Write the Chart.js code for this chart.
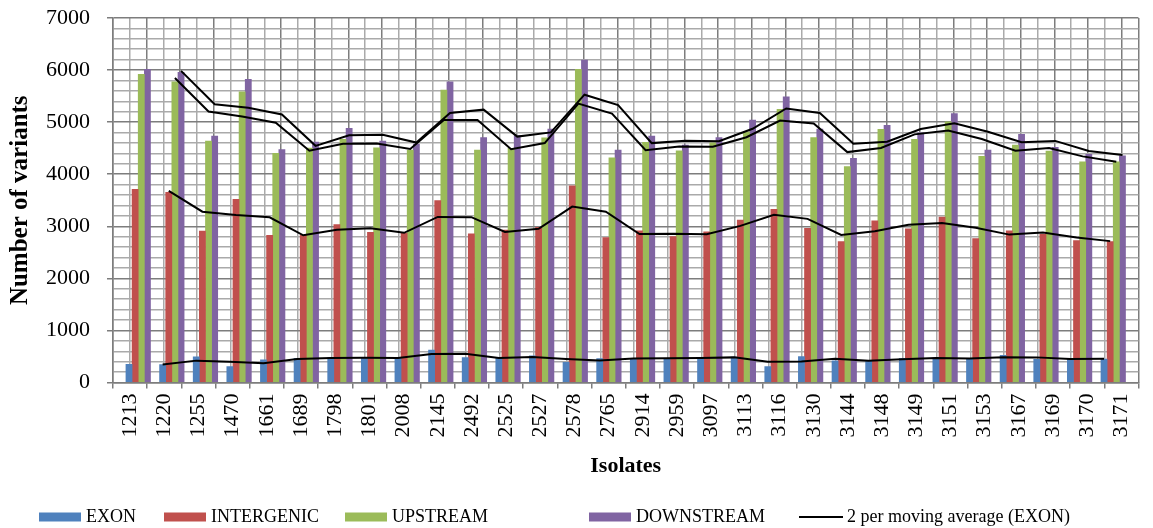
<!DOCTYPE html>
<html>
<head>
<meta charset="utf-8">
<script src="https://cdn.jsdelivr.net/npm/chart.js@4/dist/chart.umd.min.js"></script>
<style>
  html, body { margin: 0; padding: 0; background: #ffffff; }
  #wrap { width: 1153px; height: 528px; }
</style>
</head>
<body>
<div id="wrap"><canvas id="chart" width="1153" height="528"></canvas></div>
<script>
// Isolates on the x axis
const isolates = ['1213','1220','1255','1470','1661','1689','1798','1801','2008','2145',
                  '2492','2525','2527','2578','2765','2914','2959','3097','3113','3116',
                  '3130','3144','3148','3149','3151','3153','3167','3169','3170','3171'];

// Number of variants per isolate and region
const exon       = [350, 345, 495, 305, 435, 465, 475, 475, 465, 625,
                    478, 465, 510, 388, 458, 465, 465, 475, 490, 305,
                    498, 415, 425, 465, 472, 448, 520, 445, 458, 450];
const intergenic = [3710, 3650, 2910, 3520, 2825, 2830, 3035, 2885, 2865, 3495,
                    2855, 2925, 2980, 3775, 2785, 2915, 2800, 2895, 3120, 3325,
                    2960, 2705, 3105, 2950, 3175, 2765, 2915, 2845, 2725, 2705];
const upstream   = [5920, 5775, 4635, 5580, 4400, 4500, 4670, 4505, 4465, 5615,
                    4465, 4495, 4700, 6015, 4315, 4610, 4450, 4605, 4815, 5245,
                    4705, 4145, 4860, 4670, 5005, 4345, 4560, 4445, 4240, 4240];
const downstream = [6015, 5955, 4730, 5820, 4475, 4615, 4880, 4635, 4580, 5775,
                    4705, 4740, 4865, 6190, 4465, 4730, 4560, 4705, 5040, 5485,
                    4865, 4305, 4940, 4795, 5165, 4465, 4765, 4515, 4380, 4355];

// Value axis ticks
const yTicks = [0, 1000, 2000, 3000, 4000, 5000, 6000, 7000];

const seriesNames  = ['EXON', 'INTERGENIC', 'UPSTREAM', 'DOWNSTREAM'];
const seriesValues = [exon, intergenic, upstream, downstream];
const seriesColors = ['#4f81bd', '#c0504d', '#9bbb59', '#8064a2'];
const trendLabel   = '2 per moving average (EXON)';

const FONT = "'Liberation Serif', 'Times New Roman', serif";
const GROUP_WIDTH = 0.73;           // share of each isolate's slot taken by its four bars
const GRID_MAJOR = '#7d7d7d';
const GRID_MINOR = '#aaaaaa';

// Position of series k inside the group of isolate i, in category units
function slotX(i, k) {
  const n = seriesValues.length;
  return i + (k - (n - 1) / 2) * (GROUP_WIDTH / n);
}

// Bar points: one per isolate, sitting in the series' own place in the group
function barPoints(values, k) {
  return values.map((v, i) => ({ x: slotX(i, k), y: v }));
}

// Two-period moving average, drawn through the series' own bars
function movingAverage(values, k) {
  const pts = [];
  for (let i = 1; i < values.length; i++) {
    pts.push({ x: slotX(i, k), y: (values[i - 1] + values[i]) / 2 });
  }
  return pts;
}

const barDatasets = seriesValues.map((vals, k) => ({
  type: 'bar',
  label: seriesNames[k],
  data: barPoints(vals, k),
  backgroundColor: seriesColors[k],
  borderWidth: 0,
  grouped: false,
  categoryPercentage: 1,
  barPercentage: 1,
  xAxisID: 'xl',
  yAxisID: 'y',
  order: 1,
  showInLegend: true
}));

const trendDatasets = seriesValues.map((vals, k) => ({
  type: 'line',
  label: k === 0 ? trendLabel : '2 per moving average (' + seriesNames[k] + ')',
  data: movingAverage(vals, k),
  borderColor: '#000000',
  backgroundColor: '#000000',
  borderWidth: 2,
  pointRadius: 0,
  tension: 0,
  fill: false,
  xAxisID: 'xl',
  yAxisID: 'y',
  order: 0,
  showInLegend: k === 0
}));

// Legend keys laid out along the bottom row
const legendSlots = [39, 164, 345, 589, 799];
const legendRowY = 517;

const bottomLegend = {
  id: 'bottomLegend',
  afterDraw(chart) {
    const ctx = chart.ctx;
    const items = chart.data.datasets.filter(d => d.showInLegend);
    ctx.save();
    ctx.font = '18px ' + FONT;
    ctx.textBaseline = 'middle';
    ctx.textAlign = 'left';
    items.forEach((d, i) => {
      const x0 = legendSlots[i];
      if (d.type === 'line') {
        ctx.strokeStyle = d.borderColor;
        ctx.lineWidth = 2;
        ctx.beginPath();
        ctx.moveTo(x0, legendRowY);
        ctx.lineTo(x0 + 44, legendRowY);
        ctx.stroke();
        ctx.fillStyle = '#000';
        ctx.fillText(d.label, x0 + 48, legendRowY);
      } else {
        ctx.fillStyle = d.backgroundColor;
        ctx.fillRect(x0, legendRowY - 4.5, 42, 9);
        ctx.fillStyle = '#000';
        ctx.fillText(d.label, x0 + 47, legendRowY);
      }
    });
    ctx.restore();
  }
};

const isMajorY = c => !!(c && c.tick && yTicks.includes(c.tick.value));
const isCentre = c => !!(c && c.tick && Number.isInteger(c.tick.value));

new Chart(document.getElementById('chart'), {
  type: 'bar',
  data: {
    labels: isolates,
    datasets: [...barDatasets, ...trendDatasets]
  },
  options: {
    responsive: false,
    animation: false,
    layout: { padding: { top: 18, right: 10, bottom: 48, left: 0 } },
    plugins: {
      legend: { display: false },
      tooltip: { enabled: false }
    },
    scales: {
      x: {
        type: 'category',
        position: 'bottom',
        offset: true,
        grid: {
          display: true,
          offset: true,
          drawOnChartArea: false,
          drawTicks: true,
          tickLength: 6,
          color: GRID_MAJOR,
          lineWidth: 1.5
        },
        border: { display: true, color: GRID_MAJOR, width: 1.5 },
        ticks: {
          autoSkip: false,
          maxRotation: 90,
          minRotation: 90,
          padding: 5,
          color: '#000000',
          font: { family: FONT, size: 22 }
        },
        title: {
          display: true,
          text: 'Isolates',
          color: '#000000',
          font: { family: FONT, size: 22, weight: 'bold' },
          padding: { top: 0, bottom: 0 }
        },
        afterFit(scale) { scale.height = 97.5; }
      },
      xl: {
        type: 'linear',
        position: 'top',
        min: -0.5,
        max: isolates.length - 0.5,
        ticks: { display: false, stepSize: 0.5 },
        grid: {
          drawTicks: false,
          color: c => isCentre(c) ? GRID_MINOR : GRID_MAJOR,
          lineWidth: 1.5
        },
        border: { display: false, color: GRID_MAJOR },
        afterFit(scale) { scale.height = 0; }
      },
      y: {
        type: 'linear',
        position: 'left',
        min: yTicks[0],
        max: yTicks[yTicks.length - 1],
        ticks: {
          stepSize: 200,
          autoSkip: false,
          padding: 17,
          color: '#000000',
          font: { family: FONT, size: 22 },
          callback: v => yTicks.includes(v) ? String(v) : ''
        },
        grid: {
          color: c => isMajorY(c) ? GRID_MAJOR : GRID_MINOR,
          tickColor: c => isMajorY(c) ? GRID_MAJOR : 'rgba(0,0,0,0)',
          tickLength: 6,
          lineWidth: 1.5
        },
        border: { display: true, color: GRID_MAJOR, width: 1.5 },
        title: {
          display: true,
          text: 'Number of variants',
          color: '#000000',
          font: { family: FONT, size: 25, weight: 'bold' },
          padding: { top: 6, bottom: 0 }
        },
        afterFit(scale) {
          scale.width = 113;
          // the top label fits inside the layout padding, so no extra room is reserved
          scale.paddingTop = 0;
        }
      }
    }
  },
  plugins: [bottomLegend]
});
</script>
</body>
</html>
